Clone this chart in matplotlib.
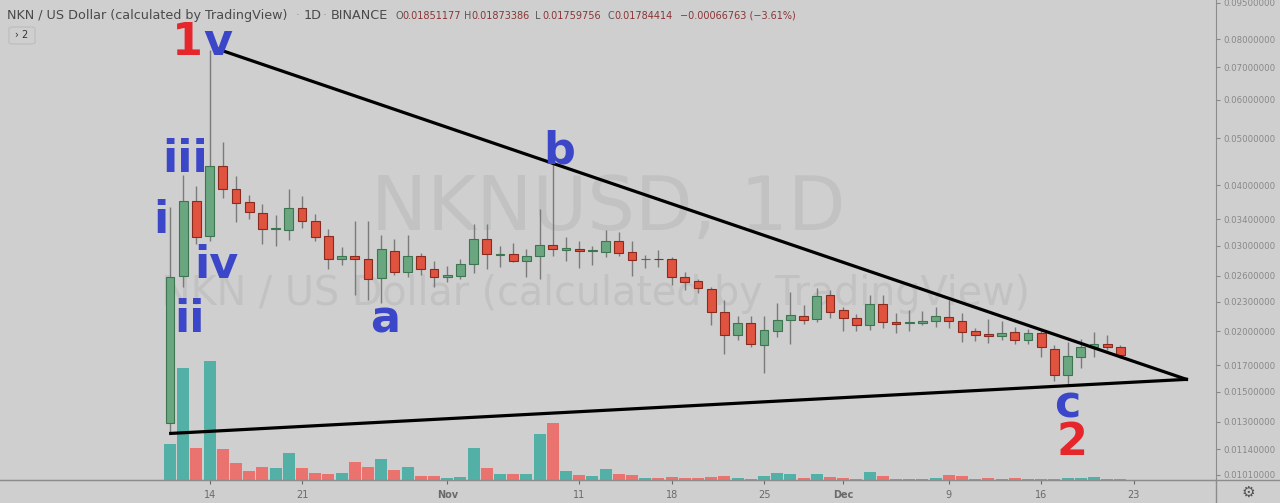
import numpy as np
import pandas as pd
import matplotlib
matplotlib.use('Agg')
import matplotlib.pyplot as plt
import matplotlib.dates as mdates
from matplotlib.patches import FancyBboxPatch
from matplotlib.lines import Line2D

# daily candles NKN/USD, Oct 11 - Dec 22 2019
dates = pd.date_range('2019-10-11', '2019-12-22', freq='D')
opens = [0.0129, 0.0260, 0.0371, 0.0314, 0.0438, 0.0392, 0.0369, 0.0351, 0.0324, 0.0323,
         0.0359, 0.0337, 0.0314, 0.0281, 0.0285, 0.0282, 0.0257, 0.0293, 0.0265, 0.0285,
         0.0268, 0.0259, 0.0260, 0.0275, 0.0309, 0.0287, 0.0288, 0.0279, 0.0285, 0.0301,
         0.0294, 0.0295, 0.0292, 0.0291, 0.0307, 0.0291, 0.0281, 0.0282, 0.0282, 0.0259,
         0.0254, 0.0244, 0.0219, 0.0196, 0.0208, 0.0187, 0.0200, 0.0211, 0.0215, 0.0212,
         0.0237, 0.0221, 0.0213, 0.0206, 0.0227, 0.0209, 0.0208, 0.0208, 0.0210, 0.0214,
         0.0210, 0.0200, 0.0197, 0.0195, 0.0199, 0.0192, 0.0198, 0.0184, 0.0162, 0.0177,
         0.0185, 0.0188, 0.01851177]
highs = [0.0361, 0.0419, 0.0399, 0.0759, 0.0491, 0.0417, 0.0381, 0.0365, 0.0347, 0.0392,
         0.0380, 0.0349, 0.0324, 0.0298, 0.0337, 0.0338, 0.0315, 0.0309, 0.0315, 0.0290,
         0.0279, 0.0272, 0.0281, 0.0332, 0.0332, 0.0300, 0.0304, 0.0295, 0.0357, 0.0443,
         0.0313, 0.0306, 0.0299, 0.0323, 0.0320, 0.0306, 0.0287, 0.0294, 0.0284, 0.0265,
         0.0256, 0.0246, 0.0232, 0.0215, 0.0215, 0.0215, 0.0228, 0.0241, 0.0226, 0.0245,
         0.0243, 0.0224, 0.0217, 0.0237, 0.0237, 0.0218, 0.0221, 0.0220, 0.0224, 0.0232,
         0.0218, 0.0203, 0.0212, 0.0210, 0.0204, 0.0202, 0.0201, 0.0187, 0.0190, 0.0193,
         0.0199, 0.0196, 0.01873386]
lows = [0.0123, 0.0247, 0.0303, 0.0306, 0.0377, 0.0335, 0.0341, 0.0302, 0.0299, 0.0308,
        0.0326, 0.0307, 0.0269, 0.0274, 0.0237, 0.0232, 0.0228, 0.0261, 0.0259, 0.0261,
        0.0246, 0.0253, 0.0256, 0.0263, 0.0269, 0.0271, 0.0277, 0.0259, 0.0256, 0.0285,
        0.0279, 0.0270, 0.0274, 0.0284, 0.0285, 0.0260, 0.0270, 0.0271, 0.0249, 0.0243,
        0.0240, 0.0206, 0.0179, 0.0192, 0.0185, 0.0164, 0.0194, 0.0188, 0.0207, 0.0209,
        0.0213, 0.0200, 0.0200, 0.0201, 0.0203, 0.0198, 0.0200, 0.0206, 0.0204, 0.0203,
        0.0190, 0.0191, 0.0189, 0.0192, 0.0188, 0.0188, 0.0177, 0.0158, 0.0155, 0.0168,
        0.0177, 0.0183, 0.01759756]
closes = [0.0259, 0.0371, 0.0313, 0.0438, 0.0392, 0.0368, 0.0352, 0.0325, 0.0326, 0.0358,
          0.0337, 0.0313, 0.0281, 0.0286, 0.0281, 0.0256, 0.0295, 0.0265, 0.0286, 0.0268,
          0.0259, 0.0261, 0.0275, 0.0309, 0.0288, 0.0289, 0.0279, 0.0285, 0.0301, 0.0295,
          0.0296, 0.0293, 0.0294, 0.0307, 0.0290, 0.0280, 0.0282, 0.0281, 0.0258, 0.0253,
          0.0245, 0.0219, 0.0196, 0.0208, 0.0188, 0.0201, 0.0211, 0.0216, 0.0211, 0.0236,
          0.0219, 0.0213, 0.0206, 0.0227, 0.0209, 0.0207, 0.0209, 0.0210, 0.0215, 0.0210,
          0.0199, 0.0196, 0.0195, 0.0198, 0.0192, 0.0198, 0.0185, 0.0162, 0.0178, 0.0185,
          0.0188, 0.0185, 0.01784414]
volume = [36, 112, 32, 119, 31, 17, 9, 13, 12, 27,
          12, 7, 6, 7, 18, 13, 21, 10, 12.7, 4,
          4, 2, 3, 32, 12, 6, 6, 6, 46, 57,
          9, 5, 4, 11, 6, 5, 1.5, 2, 3, 2,
          2, 2.5, 3.5, 2, 1, 4, 6.5, 5.5, 2, 5.5,
          3, 2, 0.7, 7.5, 4, 1, 1, 1, 2, 4.7,
          4, 1.3, 2, 1, 2, 1, 1, 1, 2, 2,
          3, 1.3, 0.5]

price_ticks = [0.095, 0.08, 0.07, 0.06, 0.05, 0.04, 0.034, 0.03, 0.026, 0.023,
               0.020, 0.017, 0.015, 0.013, 0.0114, 0.0101]
date_ticks = ['2019-10-14', '2019-10-21', '2019-11-01', '2019-11-11', '2019-11-18',
              '2019-11-25', '2019-12-01', '2019-12-09', '2019-12-16', '2019-12-23']
date_labels = ['14', '21', 'Nov', '11', '18', '25', 'Dec', '9', '16', '23']

# wave labels: (text, day offset from first candle, price, colour, ha)
waves = [('1', 2.5, 0.0741, 'red', 'right'), ('v', 2.5, 0.0741, 'blue', 'left'),
         ('iii', 1.14, 0.0425, 'blue', 'center'), ('i', -0.68, 0.0318, 'blue', 'center'),
         ('iv', 3.48, 0.0257, 'blue', 'center'), ('ii', 1.44, 0.0199, 'blue', 'center'),
         ('a', 16.3, 0.0199, 'blue', 'center'), ('b', 29.5, 0.0444, 'blue', 'center'),
         ('c', 68.0, 0.01324, 'blue', 'center'), ('2', 68.3, 0.0111, 'red', 'center')]

bg = '#cfcfcf'
up_body, up_edge = '#6aa67f', '#3d7550'
dn_body, dn_edge = '#e0533f', '#8a2b20'
vol_up, vol_dn = '#53b0a6', '#ea736f'
blue, red = '#3c46c8', '#e5262b'

x = mdates.date2num(dates)
x0 = x[0]
o = np.array(opens); c = np.array(closes)
up = c >= o

fig = plt.figure(figsize=(12.8, 5.03), dpi=100, facecolor=bg)
pos = [0, 23/503, 1216/1280, 480/503]
axv = fig.add_axes(pos)
ax = fig.add_axes(pos)
ax.patch.set_visible(False)
axv.set_facecolor(bg)

xlim = (x0 - 12.88, x0 + 79.24)

# volume
axv.bar(x, volume, width=0.9, color=np.where(up, vol_up, vol_dn),
        edgecolor='none')
axv.set_ylim(0, max(volume) * 4.03)
axv.set_xlim(*xlim)
axv.axis('off')

# candles
ax.vlines(x, lows, highs, color='#7a7a7a', lw=1, zorder=2)
ax.bar(x, np.abs(c - o), bottom=np.minimum(o, c), width=0.66,
       color=np.where(up, up_body, dn_body), edgecolor=np.where(up, up_edge, dn_edge),
       lw=0.8, zorder=3)

# triangle
ax.plot([x0 + 3.6, x0 + 77.0], [0.0763, 0.0159], color='black', lw=2.3, zorder=4)
ax.plot([x0 + 0.05, x0 + 77.0], [0.0123, 0.0159], color='black', lw=2.3, zorder=4)

for t, dx, p, col, ha in waves:
    ax.text(x0 + dx, p, t, color=blue if col == 'blue' else red, fontsize=32,
            fontweight='bold', ha=ha, va='baseline', zorder=5)

# watermark
ax.text(0.5, 0.521, 'NKNUSD, 1D', transform=ax.transAxes, ha='center', va='baseline',
        fontsize=54, color='#c2c2c2', zorder=0)
ax.text(0.49, 0.365, 'NKN / US Dollar (calculated by TradingView)', transform=ax.transAxes,
        ha='center', va='baseline', fontsize=28.5, color='#c2c2c2', zorder=0)

ax.set_yscale('log')
ax.set_ylim(0.00986, 0.0963)
ax.set_xlim(*xlim)
ax.yaxis.tick_right()
ax.set_yticks(price_ticks)
ax.set_yticklabels(['%.8f' % t for t in price_ticks])
ax.minorticks_off()
ax.set_xticks(mdates.date2num(pd.to_datetime(date_ticks)))
ax.set_xticklabels(date_labels)
for lab in ax.get_xticklabels():
    if lab.get_text() in ('Nov', 'Dec'):
        lab.set_fontweight('bold')
ax.tick_params(axis='y', labelsize=6.2, colors='#888888', length=3, pad=2)
ax.tick_params(axis='x', labelsize=7, colors='#6a6a6a', length=3, pad=4)
for s in ['top', 'left']:
    ax.spines[s].set_visible(False)
for s in ['right', 'bottom']:
    ax.spines[s].set_color('#8c8c8c')

fig.add_artist(Line2D([0, 1], [23/503, 23/503], color='#8c8c8c', lw=1))
fig.add_artist(Line2D([1216/1280, 1216/1280], [0, 23/503], color='#8c8c8c', lw=1))

# header
hy = 1 - 19/503
fig.text(7/1280, hy, 'NKN / US Dollar (calculated by TradingView)', fontsize=9.2,
         color='#4a4a4a', va='baseline')
fig.text(296/1280, hy, '·', fontsize=8.5, color='#9a9a9a', va='baseline')
fig.text(304/1280, hy, '1D', fontsize=9.2, color='#4a4a4a', va='baseline')
fig.text(323/1280, hy, '·', fontsize=8.5, color='#9a9a9a', va='baseline')
fig.text(331/1280, hy, 'BINANCE', fontsize=9.2, color='#4a4a4a', va='baseline')
for lx, letter, val in [(395, 'O', '0.01851177'), (464, 'H', '0.01873386'),
                        (535, 'L', '0.01759756'), (607, 'C', '0.01784414')]:
    fig.text(lx/1280, hy, letter, fontsize=7, color='#5a5a5a', va='baseline')
    fig.text((lx + 7)/1280, hy, val, fontsize=7, color='#8b3434', va='baseline')
fig.text(680/1280, hy, '\u22120.00066763 (\u22123.61%)', fontsize=7, color='#8b3434',
         va='baseline')

fig.add_artist(FancyBboxPatch((9/1280, 459/503), 26/1280, 17/503,
                              boxstyle='round,pad=0,rounding_size=0.003',
                              transform=fig.transFigure, facecolor=bg,
                              edgecolor='#bdbdbd', lw=0.8))
fig.text(22/1280, 1 - 35.5/503, '\u203a 2', fontsize=7, color='#333333',
         ha='center', va='center')
fig.text(1248/1280, 1 - 492/503, '\u2699', fontsize=11, color='#555555',
         ha='center', va='center')

fig.savefig('out.png', dpi=100, facecolor=bg)
